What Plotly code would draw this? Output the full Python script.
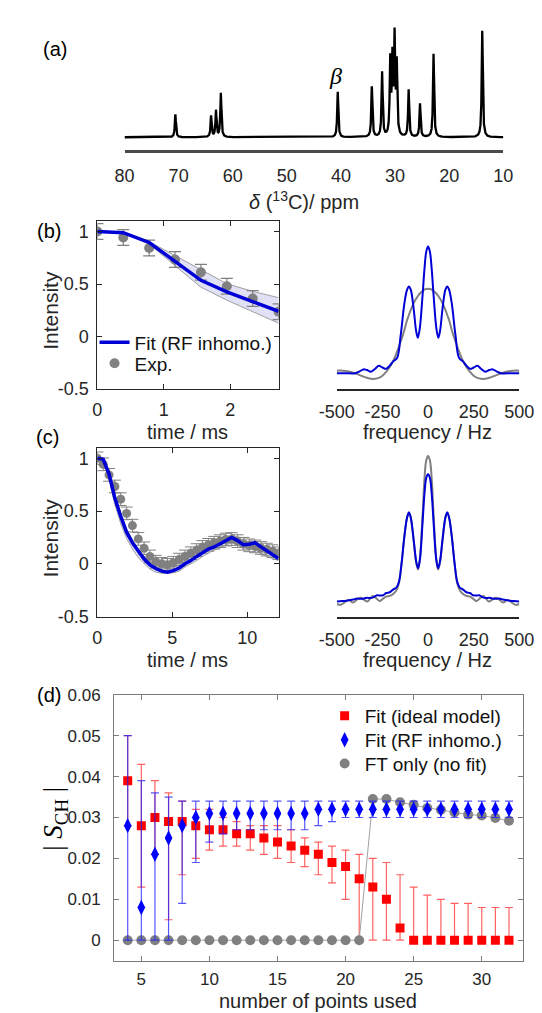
import numpy as np
import plotly.graph_objects as go

W, H = 542, 1013
FONT = "Liberation Sans, Arial, Helvetica, sans-serif"
SERIF = "Liberation Serif, Times New Roman, serif"
TXT = "#262626"

def xd(px):
    return px / W

def yd(py):
    return 1 - py / H

# ---------------- (a) 13C spectrum: peak table ----------------
peak_ppm = [70.6, 64.0, 63.1, 62.2, 40.6, 34.3, 32.4, 30.9, 30.5, 30.1, 29.7, 27.5, 25.4, 22.9, 13.9]
peak_height = [0.215, 0.20, 0.248, 0.411, 0.426, 0.472, 0.607, 0.70, 0.70, 0.90, 0.66, 0.442, 0.313, 0.782, 1.0]
peak_width = 0.12  # ppm half width
a_ticks = [80, 70, 60, 50, 40, 30, 20, 10]

# ---------------- (b) short decay (8 points) ----------------
t_b = [0, 0.39, 0.78, 1.17, 1.56, 1.95, 2.34, 2.73]
exp_b = [1.0, 0.943, 0.843, 0.733, 0.613, 0.478, 0.362, 0.236]
exp_b_err = [0.075, 0.075, 0.075, 0.075, 0.075, 0.075, 0.075, 0.075]
fit_b = [1.0, 0.99, 0.896, 0.72, 0.535, 0.425, 0.33, 0.24]
band_b_up = [1.0, 0.995, 0.905, 0.77, 0.63, 0.503, 0.43, 0.37]
band_b_lo = [1.0, 0.985, 0.88, 0.676, 0.47, 0.346, 0.236, 0.126]

# (b) FT spectra
f_b = [-500, -450, -400, -375, -355, -335, -313, -290, -270, -250, -230, -210, -190, -170, -150, -130,
       -115, -105, -95, -80, -65, -56, -45, -30, -20, -10, 0, 10, 20, 30, 45, 56, 65, 80, 95, 105, 115,
       130, 150, 170, 190, 210, 230, 250, 270, 290, 313, 335, 355, 375, 400, 450, 500]
ft_b_fit = [0, 0, 0, 0.015, 0.03, 0.025, 0.012, 0.035, 0.058, 0.045, 0.035, 0.06, 0.095, 0.12, 0.3, 0.55,
            0.66, 0.685, 0.66, 0.52, 0.33, 0.28, 0.36, 0.62, 0.82, 0.96, 1.0, 0.96, 0.82, 0.62, 0.36, 0.28,
            0.33, 0.52, 0.66, 0.685, 0.66, 0.55, 0.3, 0.12, 0.095, 0.06, 0.035, 0.045, 0.058, 0.035, 0.012,
            0.025, 0.03, 0.015, 0, 0, 0]
ft_b_exp = [0.02, 0.018, 0.0, -0.015, -0.026, -0.036, -0.044, -0.044, -0.037, -0.02, 0.01, 0.05, 0.1,
            0.17, 0.25, 0.34, 0.42, 0.46, 0.50, 0.55, 0.59, 0.61, 0.63, 0.65, 0.66, 0.665, 0.667, 0.665,
            0.66, 0.65, 0.63, 0.61, 0.59, 0.55, 0.50, 0.46, 0.42, 0.34, 0.25, 0.17, 0.1, 0.05, 0.01, -0.02,
            -0.037, -0.044, -0.044, -0.036, -0.026, -0.015, 0.0, 0.018, 0.02]

# ---------------- (c) full decay (32 points) ----------------
t_c = [0, 0.39, 0.78, 1.17, 1.56, 1.95, 2.34, 2.73, 3.12, 3.51, 3.9, 4.29, 4.68, 5.07, 5.46, 5.85,
       6.24, 6.63, 7.02, 7.41, 7.8, 8.19, 8.58, 8.97, 9.36, 9.75, 10.14, 10.53, 10.92, 11.31, 11.7, 12.09]
exp_c = [1.0, 0.943, 0.843, 0.733, 0.613, 0.478, 0.362, 0.236, 0.147, 0.07, 0.02, 0.0, -0.01, 0.01,
         0.04, 0.07, 0.1, 0.13, 0.16, 0.18, 0.2, 0.215, 0.23, 0.235, 0.215, 0.19, 0.175, 0.165, 0.15,
         0.135, 0.12, 0.1]
exp_c_err = [0.06, 0.06, 0.06, 0.06, 0.06, 0.06, 0.06, 0.06, 0.06, 0.06, 0.06, 0.06, 0.06, 0.06, 0.06,
             0.06, 0.06, 0.06, 0.06, 0.06, 0.06, 0.06, 0.06, 0.06, 0.06, 0.06, 0.06, 0.06, 0.06, 0.06,
             0.06, 0.06]
fit_c = [1.0, 0.99, 0.85, 0.62, 0.45, 0.30, 0.20, 0.115, 0.045, -0.01, -0.045, -0.07, -0.08, -0.065,
         -0.04, 0.0, 0.03, 0.07, 0.11, 0.14, 0.16, 0.19, 0.22, 0.25, 0.22, 0.18, 0.185, 0.2, 0.16, 0.12,
         0.085, 0.05]
band_c_up = [1.0, 1.0, 0.87, 0.66, 0.48, 0.33, 0.23, 0.14, 0.07, 0.02, -0.02, -0.04, -0.045, -0.035,
             -0.01, 0.03, 0.07, 0.11, 0.15, 0.18, 0.2, 0.22, 0.25, 0.27, 0.25, 0.21, 0.21, 0.21, 0.18,
             0.15, 0.12, 0.09]
band_c_lo = [1.0, 0.97, 0.8, 0.56, 0.38, 0.24, 0.14, 0.06, 0.0, -0.05, -0.08, -0.09, -0.09, -0.085,
             -0.07, -0.03, 0.0, 0.03, 0.07, 0.1, 0.13, 0.15, 0.18, 0.2, 0.18, 0.14, 0.14, 0.13, 0.1, 0.07,
             0.05, 0.03]

# (c) FT spectra
f_c_fit = [-500, -470, -440, -410, -390, -370, -350, -335, -320, -300, -280, -265, -245, -230, -210,
           -190, -175, -160, -145, -130, -115, -105, -95, -80, -65, -55, -45, -30, -20, -10, 0, 10, 20,
           30, 45, 55, 65, 80, 95, 105, 115, 130, 145, 160, 175, 190, 210, 230, 245, 265, 280, 300, 320,
           335, 350, 370, 390, 410, 440, 470, 500]
ft_c_fit = [0.007, 0.01, 0.013, 0.02, 0.027, 0.025, 0.028, 0.033, 0.03, 0.035, 0.05, 0.047, 0.05, 0.065,
            0.07, 0.09, 0.1, 0.14, 0.27, 0.45, 0.58, 0.614, 0.58, 0.44, 0.28, 0.234, 0.29, 0.55, 0.74,
            0.85, 0.875, 0.85, 0.74, 0.55, 0.29, 0.234, 0.28, 0.44, 0.58, 0.614, 0.58, 0.45, 0.27, 0.14,
            0.1, 0.09, 0.07, 0.065, 0.05, 0.047, 0.05, 0.035, 0.03, 0.033, 0.028, 0.025, 0.027, 0.02,
            0.013, 0.01, 0.007]
f_c_exp = [-500, -480, -458, -437, -411, -390, -371, -352, -334, -318, -303, -285, -265, -248, -230,
           -210, -190, -175, -160, -145, -130, -115, -105, -95, -80, -65, -55, -45, -30, -20, -10, 0, 10,
           20, 30, 45, 55, 65, 80, 95, 105, 115, 130, 145, 160, 175, 190, 210, 230, 248, 265, 285, 303,
           318, 334, 352, 371, 390, 411, 437, 458, 480, 500]
ft_c_exp = [-0.01, -0.016, 0.0, 0.018, 0.0, 0.02, 0.033, 0.02, 0.007, 0.025, 0.045, 0.03, 0.01, 0.025,
            0.04, 0.045, 0.06, 0.08, 0.13, 0.27, 0.45, 0.58, 0.614, 0.58, 0.43, 0.27, 0.225, 0.3, 0.6,
            0.84, 0.97, 1.0, 0.97, 0.84, 0.6, 0.3, 0.225, 0.27, 0.43, 0.58, 0.614, 0.58, 0.45, 0.27, 0.13,
            0.08, 0.06, 0.045, 0.04, 0.025, 0.01, 0.03, 0.045, 0.025, 0.007, 0.02, 0.033, 0.02, 0.0,
            0.018, 0.0, -0.016, -0.01]

# ---------------- (d) order parameter vs number of points ----------------
n_pts = [4, 5, 6, 7, 8, 9, 10, 11, 12, 13, 14, 15, 16, 17, 18, 19, 20, 21, 22, 23, 24, 25, 26, 27, 28,
         29, 30, 31, 32]
s_ideal = [0.039, 0.028, 0.030, 0.029, 0.029, 0.028, 0.027, 0.027, 0.026, 0.026, 0.025, 0.024, 0.023,
           0.022, 0.021, 0.019, 0.018, 0.015, 0.013, 0.010, 0.003, 0, 0, 0, 0, 0, 0, 0, 0]
s_ideal_hi = [0.050, 0.043, 0.039, 0.036, 0.034, 0.032, 0.032, 0.030, 0.029, 0.028, 0.028, 0.028, 0.027,
              0.025, 0.024, 0.023, 0.022, 0.021, 0.020, 0.019, 0.016, 0.013, 0.011, 0.010, 0.009,
              0.009, 0.008, 0.008, 0.008]
s_ideal_lo = [0.028, 0.013, 0.021, 0.005, 0.016, 0.020, 0.022, 0.023, 0.023, 0.022, 0.021, 0.020, 0.019,
              0.018, 0.016, 0.014, 0.010, 0, 0, 0, 0, 0, 0, 0, 0, 0, 0, 0, 0]
s_rf = [0.028, 0.008, 0.021, 0.025, 0.028, 0.030, 0.031, 0.031, 0.031, 0.031, 0.031, 0.031, 0.031,
        0.031, 0.032, 0.032, 0.032, 0.032, 0.032, 0.032, 0.032, 0.032, 0.032, 0.032, 0.032, 0.032,
        0.032, 0.032, 0.032]
s_rf_hi = [0.050, 0.039, 0.036, 0.035, 0.034, 0.034, 0.034, 0.034, 0.034, 0.034, 0.034, 0.034, 0.034,
           0.034, 0.034, 0.034, 0.034, 0.034, 0.034, 0.034, 0.034, 0.034, 0.034, 0.034, 0.034, 0.034,
           0.034, 0.034, 0.034]
s_rf_lo = [0, 0, 0, 0, 0.009, 0.019, 0.024, 0.026, 0.027, 0.027, 0.027, 0.027, 0.027, 0.027, 0.028,
           0.029, 0.030, 0.030, 0.030, 0.030, 0.030, 0.030, 0.030, 0.030, 0.030, 0.030, 0.030, 0.030,
           0.030]
s_ft = [0, 0, 0, 0, 0, 0, 0, 0, 0, 0, 0, 0, 0, 0, 0, 0, 0, 0, 0.0345, 0.0345, 0.0337, 0.0331, 0.0323,
        0.0319, 0.0312, 0.0307, 0.0305, 0.0299, 0.0292]
d_yticks = [0, 0.01, 0.02, 0.03, 0.04, 0.05, 0.06]
d_xticks = [5, 10, 15, 20, 25, 30]

BLUE = "#0000d6"
GRAY = "#808080"

fig = go.Figure()

# ---- (a) spectrum built from the peak table ----
ppm = np.linspace(80, 10, 7001)
spec = np.zeros_like(ppm)
for p, h in zip(peak_ppm, peak_height):
    spec += h / (1 + ((ppm - p) / peak_width) ** 2)
fig.add_trace(go.Scatter(x=ppm, y=spec, mode="lines", line=dict(color="black", width=2.3),
                         xaxis="x", yaxis="y", showlegend=False, hoverinfo="skip"))

# ---- (b) left ----
fig.add_trace(go.Scatter(x=t_b, y=band_b_lo, mode="lines", line=dict(color="#8c8c8c", width=0.8),
                         xaxis="x2", yaxis="y2", showlegend=False))
fig.add_trace(go.Scatter(x=t_b, y=band_b_up, mode="lines", line=dict(color="#8c8c8c", width=0.8),
                         fill="tonexty", fillcolor="rgba(200,200,238,0.55)",
                         xaxis="x2", yaxis="y2", showlegend=False))
fig.add_trace(go.Scatter(x=t_b, y=exp_b, mode="markers", name="Exp.",
                         marker=dict(color=GRAY, size=10),
                         error_y=dict(type="data", array=exp_b_err, color=GRAY, thickness=1.2, width=6),
                         xaxis="x2", yaxis="y2", legend="legend3"))
fig.add_trace(go.Scatter(x=t_b, y=fit_b, mode="lines", name="Fit (RF inhomo.)",
                         line=dict(color=BLUE, width=3.5),
                         xaxis="x2", yaxis="y2", legend="legend2"))

# ---- (b) right FT ----
fig.add_trace(go.Scatter(x=f_b, y=ft_b_exp, mode="lines", line=dict(color=GRAY, width=2, shape="spline"),
                         xaxis="x3", yaxis="y3", showlegend=False))
fig.add_trace(go.Scatter(x=f_b, y=ft_b_fit, mode="lines", line=dict(color=BLUE, width=2, shape="spline"),
                         xaxis="x3", yaxis="y3", showlegend=False))

# ---- (c) left ----
fig.add_trace(go.Scatter(x=t_c, y=band_c_lo, mode="lines", line=dict(color="#8c8c8c", width=0.8),
                         xaxis="x4", yaxis="y4", showlegend=False))
fig.add_trace(go.Scatter(x=t_c, y=band_c_up, mode="lines", line=dict(color="#8c8c8c", width=0.8),
                         fill="tonexty", fillcolor="rgba(200,200,238,0.55)",
                         xaxis="x4", yaxis="y4", showlegend=False))
fig.add_trace(go.Scatter(x=t_c, y=exp_c, mode="markers",
                         marker=dict(color=GRAY, size=9),
                         error_y=dict(type="data", array=exp_c_err, color=GRAY, thickness=1, width=6),
                         xaxis="x4", yaxis="y4", showlegend=False))
fig.add_trace(go.Scatter(x=t_c, y=fit_c, mode="lines", line=dict(color=BLUE, width=3.5),
                         xaxis="x4", yaxis="y4", showlegend=False))

# ---- (c) right FT ----
fig.add_trace(go.Scatter(x=f_c_exp, y=ft_c_exp, mode="lines", line=dict(color=GRAY, width=2, shape="spline"),
                         xaxis="x5", yaxis="y5", showlegend=False))
fig.add_trace(go.Scatter(x=f_c_fit, y=ft_c_fit, mode="lines", line=dict(color=BLUE, width=2, shape="spline"),
                         xaxis="x5", yaxis="y5", showlegend=False))

# ---- (d) ----
ideal_plus = [h - v for h, v in zip(s_ideal_hi, s_ideal)]
ideal_minus = [v - l for v, l in zip(s_ideal, s_ideal_lo)]
rf_plus = [h - v for h, v in zip(s_rf_hi, s_rf)]
rf_minus = [v - l for v, l in zip(s_rf, s_rf_lo)]

fig.add_trace(go.Scatter(x=n_pts, y=s_ideal, mode="markers", name="Fit (ideal model)",
                         marker=dict(color="#ff0000", size=9, symbol="square"),
                         error_y=dict(type="data", symmetric=False, array=ideal_plus, arrayminus=ideal_minus,
                                      color="rgba(255,30,30,0.7)", thickness=1.2, width=4),
                         xaxis="x6", yaxis="y6", legend="legend"))
fig.add_trace(go.Scatter(x=n_pts, y=s_ft, mode="lines", line=dict(color="#a0a0a0", width=1),
                         xaxis="x6", yaxis="y6", showlegend=False))
fig.add_trace(go.Scatter(x=n_pts, y=s_ft, mode="markers", name="FT only (no fit)",
                         marker=dict(color=GRAY, size=10),
                         xaxis="x6", yaxis="y6", legend="legend5"))
fig.add_trace(go.Scatter(x=n_pts, y=s_rf, mode="markers", name="Fit (RF inhomo.)",
                         marker=dict(color="#0000ff", size=11, symbol="diamond-tall"),
                         error_y=dict(type="data", symmetric=False, array=rf_plus, arrayminus=rf_minus,
                                      color="rgba(30,30,255,0.75)", thickness=1.2, width=4),
                         xaxis="x6", yaxis="y6", legend="legend4"))

def tf(size):
    return dict(family=FONT, size=size, color=TXT)

def frame_axis(domain, rng, tickvals, ticktext, anchor, color=TXT, size=18, standoff=4):
    return dict(domain=domain, range=rng, tickvals=tickvals, ticktext=ticktext, anchor=anchor,
                showline=True, linecolor=color, linewidth=1, mirror="ticks", ticks="inside",
                ticklen=5, tickcolor=color, showgrid=False, zeroline=False, tickfont=tf(size),
                ticklabelstandoff=standoff)

def ft_xaxis(domain, anchor):
    return dict(domain=domain, range=[-500, 500], tickvals=[-500, -250, 0, 250, 500],
                ticktext=["-500", "-250", "0", "250", "500"], anchor=anchor, showline=True,
                linecolor=TXT, linewidth=1.5, ticks="", showgrid=False, zeroline=False,
                tickfont=tf(18), ticklabelstandoff=6)

hidden_y = dict(visible=False, showgrid=False, zeroline=False)

layout = dict(
    width=W, height=H, margin=dict(l=0, r=0, t=0, b=0),
    paper_bgcolor="white", plot_bgcolor="rgba(0,0,0,0)",
    font=dict(family=FONT, color=TXT),
    # (a)
    xaxis=dict(domain=[xd(104.9), xd(508.3)], range=[80, 10], tickvals=a_ticks,
               ticktext=[str(v) for v in a_ticks], anchor="y", showline=True, linecolor="#4a4a4a",
               linewidth=2.5, ticks="", ticklabelstandoff=7,
               showgrid=False, zeroline=False, tickfont=tf(18)),
    yaxis=dict(domain=[yd(136), yd(10)], range=[-0.124, 1.037], anchor="x", **hidden_y),
    # (b) left
    xaxis2=frame_axis([xd(76), xd(269)], [0, 2.73], [0, 1, 2], ["0", "1", "2"], "y2", standoff=5),
    yaxis2=frame_axis([yd(379), yd(208)], [-0.5, 1.1], [-0.5, 0, 0.5, 1], ["-0.5", "0", "0.5", "1"], "x2"),
    # (b) right
    xaxis3=ft_xaxis([xd(331), xd(525.3)], "y3"),
    yaxis3=dict(domain=[yd(379), yd(208)], range=[-0.124, 1.2016], anchor="x3", **hidden_y),
    # (c) left
    xaxis4=frame_axis([xd(76), xd(269)], [0, 12.1], [0, 5, 10], ["0", "5", "10"], "y4", standoff=5),
    yaxis4=frame_axis([yd(611), yd(439)], [-0.5, 1.1], [-0.5, 0, 0.5, 1], ["-0.5", "0", "0.5", "1"], "x4"),
    # (c) right
    xaxis5=ft_xaxis([xd(331), xd(525.3)], "y5"),
    yaxis5=dict(domain=[yd(611), yd(439)], range=[-0.0957, 1.0556], anchor="x5", **hidden_y),
    # (d)
    xaxis6=frame_axis([xd(93.8), xd(528.8)], [3, 33], d_xticks, [str(v) for v in d_xticks], "y6",
                      color="#7a7a7a", size=17, standoff=3),
    yaxis6=frame_axis([yd(961.7), yd(690.7)], [-0.005, 0.06], d_yticks,
                      ["0", "0.01", "0.02", "0.03", "0.04", "0.05", "0.06"], "x6", color="#7a7a7a",
                      size=17, standoff=9),
)

leg_common = dict(bgcolor="rgba(0,0,0,0)", borderwidth=0, xanchor="left", yanchor="middle",
                  itemwidth=30, font=dict(family=FONT, size=19, color="#111111"))
layout["legend"] = dict(x=xd(318), y=yd(712.3), **leg_common)
layout["legend4"] = dict(x=xd(318), y=yd(736.7), **leg_common)
layout["legend5"] = dict(x=xd(318), y=yd(761), **leg_common)
layout["legend2"] = dict(x=xd(73), y=yd(331.7), **leg_common)
layout["legend3"] = dict(x=xd(73), y=yd(353), **leg_common)

fig.update_layout(**layout)

def ann(text, px, py, size=20, angle=0, family=FONT, color=TXT):
    fig.add_annotation(text=text, x=xd(px), y=yd(py), xref="paper", yref="paper", showarrow=False,
                       xanchor="center", yanchor="middle", textangle=angle,
                       font=dict(family=family, size=size, color=color))

# panel labels
ann("(a)", 31, 33, size=20, color="black")
ann("(b)", 25, 218, size=20, color="black")
ann("(c)", 23, 428, size=20, color="black")
ann("(d)", 24, 691, size=20, color="black")

# axis titles
ann("<i>δ</i> (<sup>13</sup>C)/ ppm", 296, 187, size=20)
ann("<i>β</i>", 330, 60, size=24, family=SERIF, color="black")
ann("Intensity", 26, 299, size=21, angle=-90)
ann("time / ms", 172.5, 423, size=20)
ann("frequency / Hz", 428, 423, size=20)
ann("Intensity", 26, 531, size=21, angle=-90)
ann("time / ms", 172.5, 655, size=20)
ann("frequency / Hz", 428, 655, size=20)
ann("| <i>S</i><sub>CH</sub> |", 31, 817, size=27, angle=-90, family=SERIF, color="black")
ann("number of points used", 311, 1003, size=20)

fig.write_html("out.html")
